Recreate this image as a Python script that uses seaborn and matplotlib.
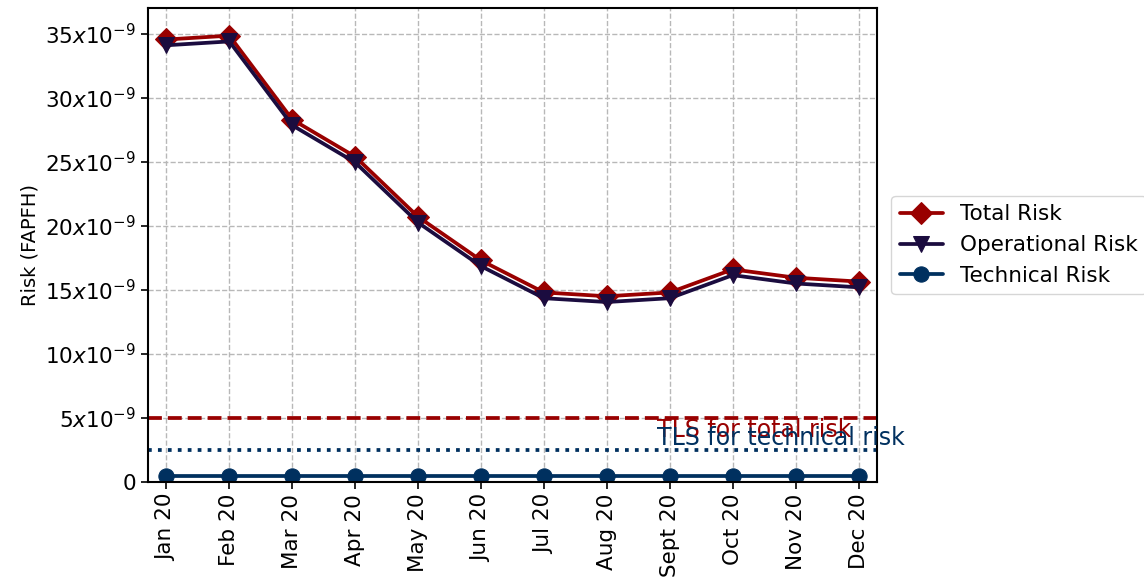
import numpy as np
import pandas as pd
import matplotlib
matplotlib.use("Agg")
import matplotlib.pyplot as plt
import seaborn as sns

# data (risk in FAPFH)
months = ["Jan 20", "Feb 20", "Mar 20", "Apr 20", "May 20", "Jun 20",
          "Jul 20", "Aug 20", "Sept 20", "Oct 20", "Nov 20", "Dec 20"]
total_risk = [34.55, 34.85, 28.3, 25.4, 20.7, 17.3, 14.8, 14.5, 14.8, 16.6, 15.95, 15.65]
operational_risk = [34.1, 34.4, 27.85, 24.95, 20.25, 16.85, 14.35, 14.05, 14.35, 16.15, 15.5, 15.2]
technical_risk = [0.45] * 12
tls_total = 5.0
tls_technical = 2.5
yticks = [0, 5, 10, 15, 20, 25, 30, 35]

scale = 1e-9
df = pd.DataFrame({"month": months,
                   "Total Risk": np.array(total_risk) * scale,
                   "Operational Risk": np.array(operational_risk) * scale,
                   "Technical Risk": np.array(technical_risk) * scale})
df["pos"] = range(len(months))

sns.set_style("ticks")
plt.rcParams["font.family"] = ["DejaVu Sans"]
plt.rcParams["font.size"] = 15.5
plt.rcParams["text.color"] = "black"

fig, ax = plt.subplots(figsize=(11.44, 5.8), dpi=100)
fig.subplots_adjust(left=0.129, right=0.767, top=0.986, bottom=0.169)

styles = [("Total Risk", "#990000", "D"),
          ("Operational Risk", "#1b0c3f", "v"),
          ("Technical Risk", "#00305f", "o")]
for name, color, marker in styles:
    sns.lineplot(data=df, x="pos", y=name, ax=ax, color=color, marker=marker,
                 markersize=11, linewidth=2.7, markeredgecolor=color, label=name)

ax.axhline(tls_total * scale, color="#990000", linestyle="--", linewidth=2.7)
ax.axhline(tls_technical * scale, color="#00305f", linestyle=":", linewidth=2.7)
ax.text(7.8, tls_total * scale, "TLS for total risk", color="#990000",
        va="top", ha="left", fontsize=17)
ax.text(7.8, tls_technical * scale, "TLS for technical risk", color="#00305f",
        va="bottom", ha="left", fontsize=17, clip_on=False)

ax.set_xlim(-0.3, 11.3)
ax.set_ylim(0, 37e-9)
ax.set_xticks(df["pos"])
ax.set_xticklabels(months, rotation=90)
ax.set_yticks([v * scale for v in yticks])
ax.set_yticklabels(["0" if v == 0 else r"$%dx10^{-9}$" % v for v in yticks])
ax.set_xlabel("")
ax.set_ylabel("Risk (FAPFH)", fontsize=14, color="black")
ax.grid(True, linestyle="--", color="#b8b8b8", linewidth=1)
for s in ax.spines.values():
    s.set_color("black")
    s.set_linewidth(1.5)
ax.tick_params(direction="out", length=5, width=1.2, colors="black")

leg = ax.legend(loc="center left", bbox_to_anchor=(1.01, 0.5), frameon=True,
                fontsize=15.5, handlelength=2, borderaxespad=0.3)
for t in leg.get_texts():
    t.set_color("black")

plt.savefig("out.png", dpi=100)
